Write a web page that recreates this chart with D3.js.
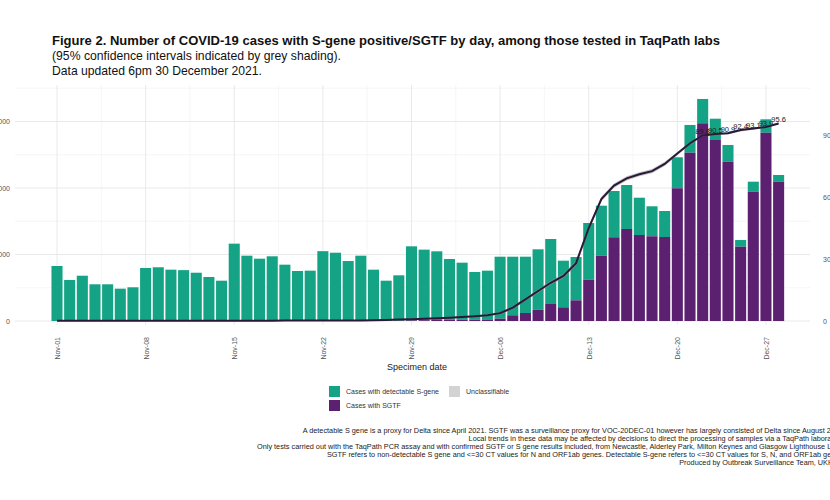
<!DOCTYPE html>
<html>
<head>
<meta charset="utf-8">
<script src="https://cdn.jsdelivr.net/npm/d3@7/dist/d3.min.js"></script>
<style>
  html, body { margin: 0; padding: 0; background: #fff; }
  svg { display: block; }
  text { font-family: "Liberation Sans", Arial, sans-serif; }
</style>
</head>
<body>
<svg id="chart" width="830" height="500"></svg>
<script>
// ---------------- DATA ----------------
const dates = [
  "2021-11-01","2021-11-02","2021-11-03","2021-11-04","2021-11-05","2021-11-06","2021-11-07",
  "2021-11-08","2021-11-09","2021-11-10","2021-11-11","2021-11-12","2021-11-13","2021-11-14",
  "2021-11-15","2021-11-16","2021-11-17","2021-11-18","2021-11-19","2021-11-20","2021-11-21",
  "2021-11-22","2021-11-23","2021-11-24","2021-11-25","2021-11-26","2021-11-27","2021-11-28",
  "2021-11-29","2021-11-30","2021-12-01","2021-12-02","2021-12-03","2021-12-04","2021-12-05",
  "2021-12-06","2021-12-07","2021-12-08","2021-12-09","2021-12-10","2021-12-11","2021-12-12",
  "2021-12-13","2021-12-14","2021-12-15","2021-12-16","2021-12-17","2021-12-18","2021-12-19",
  "2021-12-20","2021-12-21","2021-12-22","2021-12-23","2021-12-24","2021-12-25","2021-12-26",
  "2021-12-27","2021-12-28"
];
// total cases classified (S-gene detected + SGTF)
const totalCases = [
  8270, 6170, 6810, 5520, 5520, 4860, 5070,
  7970, 8080, 7720, 7650, 7260, 6620, 6060,
  11630, 9820, 9370, 9730, 8470, 7520, 7570,
  10500, 10270, 9020, 9820, 7720, 6060, 6870,
  11230, 10730, 10480, 9320, 8770, 7370, 7570,
  9670, 9670, 9670, 10780, 12330, 9070, 9620,
  14740, 17340, 19550, 20450, 18540, 17250, 16540,
  24620, 29480, 33390, 30420, 26470, 12180, 20950,
  30330, 21960
];
// cases with SGTF
const sgtfCases = [
  0, 0, 0, 0, 0, 0, 0,
  0, 0, 0, 0, 0, 0, 0,
  0, 0, 0, 0, 0, 0, 0,
  10, 10, 20, 20, 20, 30, 50,
  90, 120, 150, 170, 190, 190, 230,
  350, 860, 1200, 1700, 2560, 2060, 3110,
  6210, 9820, 12590, 13840, 12930, 12740, 12630,
  19960, 25310, 29730, 27220, 23960, 11170, 19440,
  28320, 20950
];
// % SGTF line
const pctSGTF = [
  0.1, 0.1, 0.1, 0.1, 0.1, 0.1, 0.1,
  0.1, 0.1, 0.1, 0.1, 0.1, 0.1, 0.1,
  0.1, 0.1, 0.1, 0.1, 0.2, 0.2, 0.2,
  0.2, 0.2, 0.3, 0.3, 0.4, 0.5, 0.7,
  0.9, 1.1, 1.3, 1.6, 1.9, 2.3, 2.8,
  3.8, 6.5, 10.5, 14.5, 18.5, 21.8, 28,
  45, 59, 65.5, 69, 71, 72.5, 76,
  81, 86, 89.8, 90.5, 90.9, 92.4, 93.1,
  93.9, 95.6
];
// 95% CI half-width of % SGTF
const ciHalf = [
  0.2, 0.2, 0.2, 0.2, 0.2, 0.2, 0.2,
  0.2, 0.2, 0.2, 0.2, 0.2, 0.2, 0.2,
  0.2, 0.2, 0.2, 0.2, 0.2, 0.2, 0.2,
  0.2, 0.2, 0.2, 0.2, 0.2, 0.3, 0.3,
  0.3, 0.3, 0.4, 0.4, 0.4, 0.5, 0.5,
  0.6, 0.7, 0.8, 0.9, 1.0, 1.1, 1.2,
  1.2, 1.1, 1.0, 1.0, 1.0, 1.0, 1.0,
  0.8, 0.6, 0.5, 0.5, 0.5, 0.7, 0.5,
  0.4, 0.4
];
const labelledFrom = "2021-12-22";
const xTickLabels = ["Nov-01","Nov-08","Nov-15","Nov-22","Nov-29","Dec-06","Dec-13","Dec-20","Dec-27"];
const xTickDates  = ["2021-11-01","2021-11-08","2021-11-15","2021-11-22","2021-11-29","2021-12-06","2021-12-13","2021-12-20","2021-12-27"];
const yLeftTicks = [0, 10000, 20000, 30000];
const yRightTicks = [0, 30, 60, 90];

const titleLines = [
  "Figure 2. Number of COVID-19 cases with S-gene positive/SGTF by day, among those tested in TaqPath labs",
  "(95% confidence intervals indicated by grey shading).",
  "Data updated 6pm 30 December 2021."
];
const footnotes = [
  "A detectable S gene is a proxy for Delta since April 2021. SGTF was a surveillance proxy for VOC-20DEC-01 however has largely consisted of Delta since August 2021.",
  "Local trends in these data may be affected by decisions to direct the processing of samples via a TaqPath laboratory.",
  "Only tests carried out with the TaqPath PCR assay and with confirmed SGTF or S gene results included, from Newcastle, Alderley Park, Milton Keynes and Glasgow Lighthouse Labs.",
  "SGTF refers to non-detectable S gene and <=30 CT values for N and ORF1ab genes. Detectable S-gene refers to <=30 CT values for S, N, and ORF1ab genes.",
  "Produced by Outbreak Surveillance Team, UKHSA."
];
const legendItems = [
  {label: "Cases with detectable S-gene", color: "#14A384"},
  {label: "Unclassifiable", color: "#D3D3D3"},
  {label: "Cases with SGTF", color: "#5C2071"}
];

// ---------------- DRAW ----------------
const GREEN = "#14A384", PURPLE = "#5C2071", LINE = "#2A1838";
const svg = d3.select("#chart");
const parse = d3.utcParse("%Y-%m-%d");
const rows = dates.map((d, i) => ({
  date: parse(d), total: totalCases[i], sgtf: sgtfCases[i], pct: pctSGTF[i], ci: ciHalf[i], key: d
}));

const panel = {left: 15, right: 810, top: 85, bottom: 325};
const x = d3.scaleUtc()
  .domain([parse("2021-11-01"), parse("2021-12-28")])
  .range([57, 57 + 57 * 12.66]);
const y = d3.scaleLinear().domain([0, 10000]).range([321, 254.5]);
const yPct = d3.scaleLinear().domain([0, 90]).range([321, 135]);
const dayW = x(parse("2021-11-02")) - x(parse("2021-11-01"));

// grid
const grid = svg.append("g");
[5000, 15000, 25000, 35000].forEach(v => {
  grid.append("line").attr("x1", panel.left).attr("x2", panel.right)
    .attr("y1", y(v)).attr("y2", y(v)).attr("stroke", "#f0f0f0").attr("stroke-width", 0.6);
});
yLeftTicks.forEach(v => {
  grid.append("line").attr("x1", panel.left).attr("x2", panel.right)
    .attr("y1", y(v)).attr("y2", y(v)).attr("stroke", "#e6e6e6").attr("stroke-width", 0.9);
});
xTickDates.forEach(d => {
  const t = parse(d);
  grid.append("line").attr("x1", x(t)).attr("x2", x(t))
    .attr("y1", panel.top).attr("y2", panel.bottom).attr("stroke", "#e6e6e6").attr("stroke-width", 0.9);
  const m = x(t) + 3.5 * dayW;
  if (m < panel.right) {
    grid.append("line").attr("x1", m).attr("x2", m)
      .attr("y1", panel.top).attr("y2", panel.bottom).attr("stroke", "#f0f0f0").attr("stroke-width", 0.6);
  }
});

// bars
const bw = dayW - 1.6;
const bars = svg.append("g");
bars.selectAll("rect.g").data(rows).join("rect")
  .attr("x", d => x(d.date) - bw / 2).attr("width", bw)
  .attr("y", d => y(d.total)).attr("height", d => y(d.sgtf) - y(d.total))
  .attr("fill", GREEN);
bars.selectAll("rect.p").data(rows.filter(d => d.sgtf > 0)).join("rect")
  .attr("x", d => x(d.date) - bw / 2).attr("width", bw)
  .attr("y", d => y(d.sgtf)).attr("height", d => y(0) - y(d.sgtf))
  .attr("fill", PURPLE);

// CI band + line
svg.append("path").datum(rows)
  .attr("d", d3.area().x(d => x(d.date)).y0(d => yPct(d.pct - d.ci)).y1(d => yPct(d.pct + d.ci)))
  .attr("fill", "#9a9a9a").attr("opacity", 0.6);
svg.append("path").datum(rows)
  .attr("d", d3.line().x(d => x(d.date)).y(d => yPct(d.pct)))
  .attr("fill", "none").attr("stroke", LINE).attr("stroke-width", 2);

// labels for last days
const lab = rows.filter(d => d.key >= labelledFrom);
svg.append("g").selectAll("text").data(lab).join("text")
  .attr("x", d => x(d.date)).attr("y", d => yPct(d.pct) - 1)
  .attr("text-anchor", "middle").attr("font-size", 7.5).attr("fill", "#1a1a1a")
  .text(d => d.pct.toFixed(1));

// axes
const axisLeft = svg.append("g").attr("transform", "translate(10,0)")
  .call(d3.axisLeft(y).tickValues(yLeftTicks).tickSize(0).tickPadding(0).tickFormat(d3.format("d")));
axisLeft.select(".domain").remove();
axisLeft.selectAll("text").attr("font-size", 7).attr("fill", "#555").attr("font-family", "Liberation Sans, Arial");

const axisRight = svg.append("g").attr("transform", "translate(823,0)")
  .call(d3.axisRight(yPct).tickValues(yRightTicks).tickSize(0).tickPadding(0).tickFormat(d3.format("d")));
axisRight.select(".domain").remove();
axisRight.selectAll("text").attr("font-size", 7).attr("fill", "#555").attr("font-family", "Liberation Sans, Arial");

const axisBottom = svg.append("g").attr("transform", "translate(0,337)")
  .call(d3.axisBottom(x).tickValues(xTickDates.map(parse)).tickSize(0).tickPadding(0)
    .tickFormat((d, i) => xTickLabels[i]));
axisBottom.select(".domain").remove();
axisBottom.selectAll("text")
  .attr("font-size", 7).attr("fill", "#555").attr("font-family", "Liberation Sans, Arial")
  .attr("transform", "rotate(-90)").attr("text-anchor", "end")
  .attr("x", 0).attr("y", 0).attr("dy", "0.35em");

svg.append("text").attr("x", 417).attr("y", 370).attr("text-anchor", "middle")
  .attr("font-size", 9).attr("fill", "#222").text("Specimen date");

// legend
const lg = svg.append("g");
const legPos = [{x: 329, y: 386}, {x: 449, y: 386}, {x: 329, y: 400}];
legendItems.forEach((it, i) => {
  const p = legPos[i];
  lg.append("rect").attr("x", p.x).attr("y", p.y).attr("width", 11).attr("height", 11).attr("fill", it.color);
  lg.append("text").attr("x", p.x + 17).attr("y", p.y + 8).attr("font-size", 7).attr("fill", "#333").text(it.label);
});

// title
const tX = 52;
const tLens = [668, 289, 210];
const tY = [45, 60, 75];
titleLines.forEach((t, i) => {
  svg.append("text").attr("x", tX).attr("y", tY[i])
    .attr("font-size", 13).attr("font-weight", i === 0 ? "bold" : "normal")
    .attr("fill", "#111")
    .attr("textLength", tLens[i]).attr("lengthAdjust", "spacingAndGlyphs")
    .text(t);
});

// footnotes (right aligned, cut by page edge)
const fY = [432.5, 441, 449, 457, 465];
footnotes.forEach((t, i) => {
  svg.append("text").attr("x", 845).attr("y", fY[i]).attr("text-anchor", "end")
    .attr("font-size", 7.3).attr("fill", "#222").text(t);
});
</script>
</body>
</html>
